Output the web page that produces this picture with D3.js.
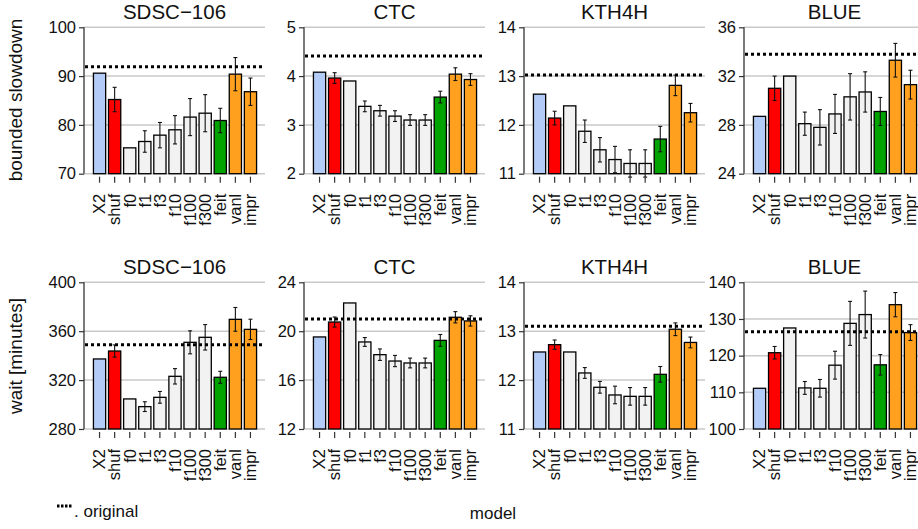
<!DOCTYPE html>
<html>
<head>
<meta charset="utf-8">
<script src="https://cdn.jsdelivr.net/npm/d3@7"></script>
<style>
  html, body { margin: 0; padding: 0; background: #ffffff; }
  svg { display: block; }
  text { font-family: "Liberation Sans", Arial, sans-serif; fill: #111; }
</style>
</head>
<body>
<svg id="chart" width="918" height="529"></svg>
<script>
// ---- data ----
const models = ["X2", "shuf", "f0", "f1", "f3", "f10", "f100", "f300", "feit", "vanl", "impr"];
const modelColors = ["#b3cbf7", "#ff0000", "#f2f2f2", "#f2f2f2", "#f2f2f2", "#f2f2f2", "#f2f2f2", "#f2f2f2", "#00a300", "#ffa11f", "#ffa11f"];
const traces = ["SDSC\u2212106", "CTC", "KTH4H", "BLUE"];
const metrics = ["bounded slowdown", "wait [minutes]"];

// bounded slowdown
const sdscSlowdown    = [90.6, 85.2, 75.3, 76.6, 77.9, 79.0, 81.6, 82.4, 80.9, 90.4, 86.8];
const sdscSlowdownErr = [0, 2.5, 0, 2.2, 2.6, 2.9, 3.8, 3.8, 2.5, 3.4, 2.8];
const ctcSlowdown     = [4.08, 3.96, 3.90, 3.38, 3.29, 3.18, 3.10, 3.10, 3.57, 4.04, 3.93];
const ctcSlowdownErr  = [0, 0.11, 0, 0.11, 0.11, 0.11, 0.11, 0.11, 0.12, 0.13, 0.12];
const kthSlowdown     = [12.63, 12.14, 12.39, 11.87, 11.49, 11.29, 11.21, 11.21, 11.71, 12.81, 12.25];
const kthSlowdownErr  = [0, 0.14, 0, 0.23, 0.25, 0.27, 0.28, 0.28, 0.26, 0.21, 0.19];
const blueSlowdown    = [28.7, 31.0, 32.0, 28.1, 27.8, 28.9, 30.3, 30.7, 29.1, 33.3, 31.3];
const blueSlowdownErr = [0, 1.0, 0, 0.95, 1.45, 1.6, 1.9, 1.65, 1.15, 1.38, 1.18];

// wait [minutes]
const sdscWait    = [337.3, 343.8, 304.6, 298.3, 305.9, 323.1, 350.9, 355.0, 322.3, 369.7, 361.5];
const sdscWaitErr = [0, 5.0, 0, 4.0, 4.8, 6.3, 9.4, 10.4, 4.9, 9.7, 8.3];
const ctcWait     = [19.53, 20.75, 22.31, 19.12, 18.08, 17.56, 17.40, 17.40, 19.25, 21.14, 20.84];
const ctcWaitErr  = [0, 0.41, 0, 0.36, 0.47, 0.46, 0.40, 0.40, 0.48, 0.46, 0.42];
const kthWait     = [12.575, 12.725, 12.575, 12.146, 11.853, 11.696, 11.668, 11.668, 12.118, 13.04, 12.77];
const kthWaitErr  = [0, 0.095, 0, 0.11, 0.12, 0.18, 0.18, 0.18, 0.16, 0.13, 0.11];
const blueWait    = [111.1, 120.8, 127.55, 111.2, 111.1, 117.4, 128.8, 131.2, 117.5, 133.9, 126.3];
const blueWaitErr = [0, 1.7, 0, 1.75, 2.4, 3.8, 6.0, 6.4, 2.8, 3.3, 2.15];

// original (dotted reference line)
const originalSlowdown = [91.9, 4.41, 13.02, 33.8];
const originalWait     = [349.0, 21.0, 13.10, 126.5];

// y axis domains and tick labels
const slowdownDomains = [[70, 100], [2, 5], [11, 14], [24, 36]];
const slowdownTicks   = [[70, 80, 90, 100], [2, 3, 4, 5], [11, 12, 13, 14], [24, 28, 32, 36]];
const waitDomains     = [[280, 400], [12, 24], [11, 14], [100, 140]];
const waitTicks       = [[280, 320, 360, 400], [12, 16, 20, 24], [11, 12, 13, 14], [100, 110, 120, 130, 140]];

const panels = [
  { row: 0, col: 0, values: sdscSlowdown, errors: sdscSlowdownErr, original: originalSlowdown[0], domain: slowdownDomains[0], ticks: slowdownTicks[0] },
  { row: 0, col: 1, values: ctcSlowdown,  errors: ctcSlowdownErr,  original: originalSlowdown[1], domain: slowdownDomains[1], ticks: slowdownTicks[1] },
  { row: 0, col: 2, values: kthSlowdown,  errors: kthSlowdownErr,  original: originalSlowdown[2], domain: slowdownDomains[2], ticks: slowdownTicks[2] },
  { row: 0, col: 3, values: blueSlowdown, errors: blueSlowdownErr, original: originalSlowdown[3], domain: slowdownDomains[3], ticks: slowdownTicks[3] },
  { row: 1, col: 0, values: sdscWait, errors: sdscWaitErr, original: originalWait[0], domain: waitDomains[0], ticks: waitTicks[0] },
  { row: 1, col: 1, values: ctcWait,  errors: ctcWaitErr,  original: originalWait[1], domain: waitDomains[1], ticks: waitTicks[1] },
  { row: 1, col: 2, values: kthWait,  errors: kthWaitErr,  original: originalWait[2], domain: waitDomains[2], ticks: waitTicks[2] },
  { row: 1, col: 3, values: blueWait, errors: blueWaitErr, original: originalWait[3], domain: waitDomains[3], ticks: waitTicks[3] }
];

// ---- layout ----
const svg = d3.select("#chart");
const colStep = 220, axisX0 = 84, plotW = 181;
const rowTop = [27.3, 282.3], rowBottom = [173.7, 429];

panels.forEach(p => {
  const ax = axisX0 + p.col * colStep;
  const top = rowTop[p.row], bottom = rowBottom[p.row];
  const g = svg.append("g");

  const x = d3.scaleBand().domain(models).range([ax + 8, ax + 174]).paddingInner(0.19).paddingOuter(0.095);
  const y = d3.scaleLinear().domain(p.domain).range([bottom, top]);

  // grid lines
  g.selectAll("line.grid").data(p.ticks).enter().append("line")
    .attr("x1", ax).attr("x2", ax + plotW)
    .attr("y1", d => y(d)).attr("y2", d => y(d))
    .attr("stroke", "#c9c9c9").attr("stroke-width", 1.5);

  // y axis
  const yAxis = d3.axisLeft(y).tickValues(p.ticks).tickSize(5).tickPadding(3).tickFormat(d3.format("d"));
  const ya = g.append("g").attr("transform", `translate(${ax},0)`).call(yAxis);
  ya.select(".domain").attr("stroke", "#333").attr("stroke-width", 1.3).attr("d", `M0,${top}V${bottom}`);
  ya.selectAll(".tick line").attr("stroke", "#333").attr("stroke-width", 1.2);
  ya.selectAll(".tick text").attr("font-size", 16.5).attr("fill", "#111")
    .attr("font-family", "'Liberation Sans', Arial, sans-serif");

  // bars
  g.selectAll("rect.bar").data(models).enter().append("rect")
    .attr("x", d => x(d)).attr("width", x.bandwidth())
    .attr("y", (d, i) => y(p.values[i]))
    .attr("height", (d, i) => y(p.domain[0]) - y(p.values[i]))
    .attr("fill", (d, i) => modelColors[i])
    .attr("stroke", "#000").attr("stroke-width", 1.3);

  // error bars
  const errIdx = models.map((d, i) => i).filter(i => p.errors[i] > 0);
  const eb = g.selectAll("g.err").data(errIdx).enter().append("g").attr("stroke", "#111").attr("stroke-width", 1.1);
  eb.append("line")
    .attr("x1", i => x(models[i]) + x.bandwidth() / 2).attr("x2", i => x(models[i]) + x.bandwidth() / 2)
    .attr("y1", i => y(p.values[i] - p.errors[i])).attr("y2", i => y(p.values[i] + p.errors[i]));
  [1, -1].forEach(s => {
    eb.append("line")
      .attr("x1", i => x(models[i]) + x.bandwidth() / 2 - 2).attr("x2", i => x(models[i]) + x.bandwidth() / 2 + 2)
      .attr("y1", i => y(p.values[i] + s * p.errors[i])).attr("y2", i => y(p.values[i] + s * p.errors[i]));
  });

  // original dotted line
  g.append("line")
    .attr("x1", ax + 1).attr("x2", ax + plotW)
    .attr("y1", y(p.original)).attr("y2", y(p.original))
    .attr("stroke", "#000").attr("stroke-width", 3).attr("stroke-dasharray", "3,3");

  // x axis ticks and labels
  const xAxis = d3.axisBottom(x).tickSize(6).tickPadding(7);
  const xa = g.append("g").attr("transform", `translate(0,${bottom + 3})`).call(xAxis);
  xa.select(".domain").remove();
  xa.selectAll(".tick line").attr("stroke", "#333").attr("stroke-width", 1.2);
  xa.selectAll(".tick text")
    .attr("font-size", 16.5).attr("fill", "#111")
    .attr("font-family", "'Liberation Sans', Arial, sans-serif")
    .attr("transform", "rotate(-90)")
    .attr("text-anchor", "end")
    .attr("x", -17).attr("y", 0).attr("dy", "0.35em");

  // title
  g.append("text")
    .attr("x", ax + plotW / 2).attr("y", top - 8)
    .attr("text-anchor", "middle").attr("font-size", 20.5)
    .text(traces[p.col]);
});

// y axis titles
svg.append("text").attr("transform", "translate(22,100) rotate(-90)")
  .attr("text-anchor", "middle").attr("font-size", 19).text(metrics[0]);
svg.append("text").attr("transform", "translate(22,356) rotate(-90)")
  .attr("text-anchor", "middle").attr("font-size", 19).text(metrics[1]);

// x axis title
svg.append("text").attr("x", 493).attr("y", 519).attr("text-anchor", "middle").attr("font-size", 17).text("model");

// legend
svg.append("line").attr("x1", 57).attr("x2", 73).attr("y1", 506).attr("y2", 506)
  .attr("stroke", "#000").attr("stroke-width", 3).attr("stroke-dasharray", "2.5,1.5");
svg.append("text").attr("x", 74).attr("y", 517).attr("font-size", 17).text(". original");
</script>
</body>
</html>
